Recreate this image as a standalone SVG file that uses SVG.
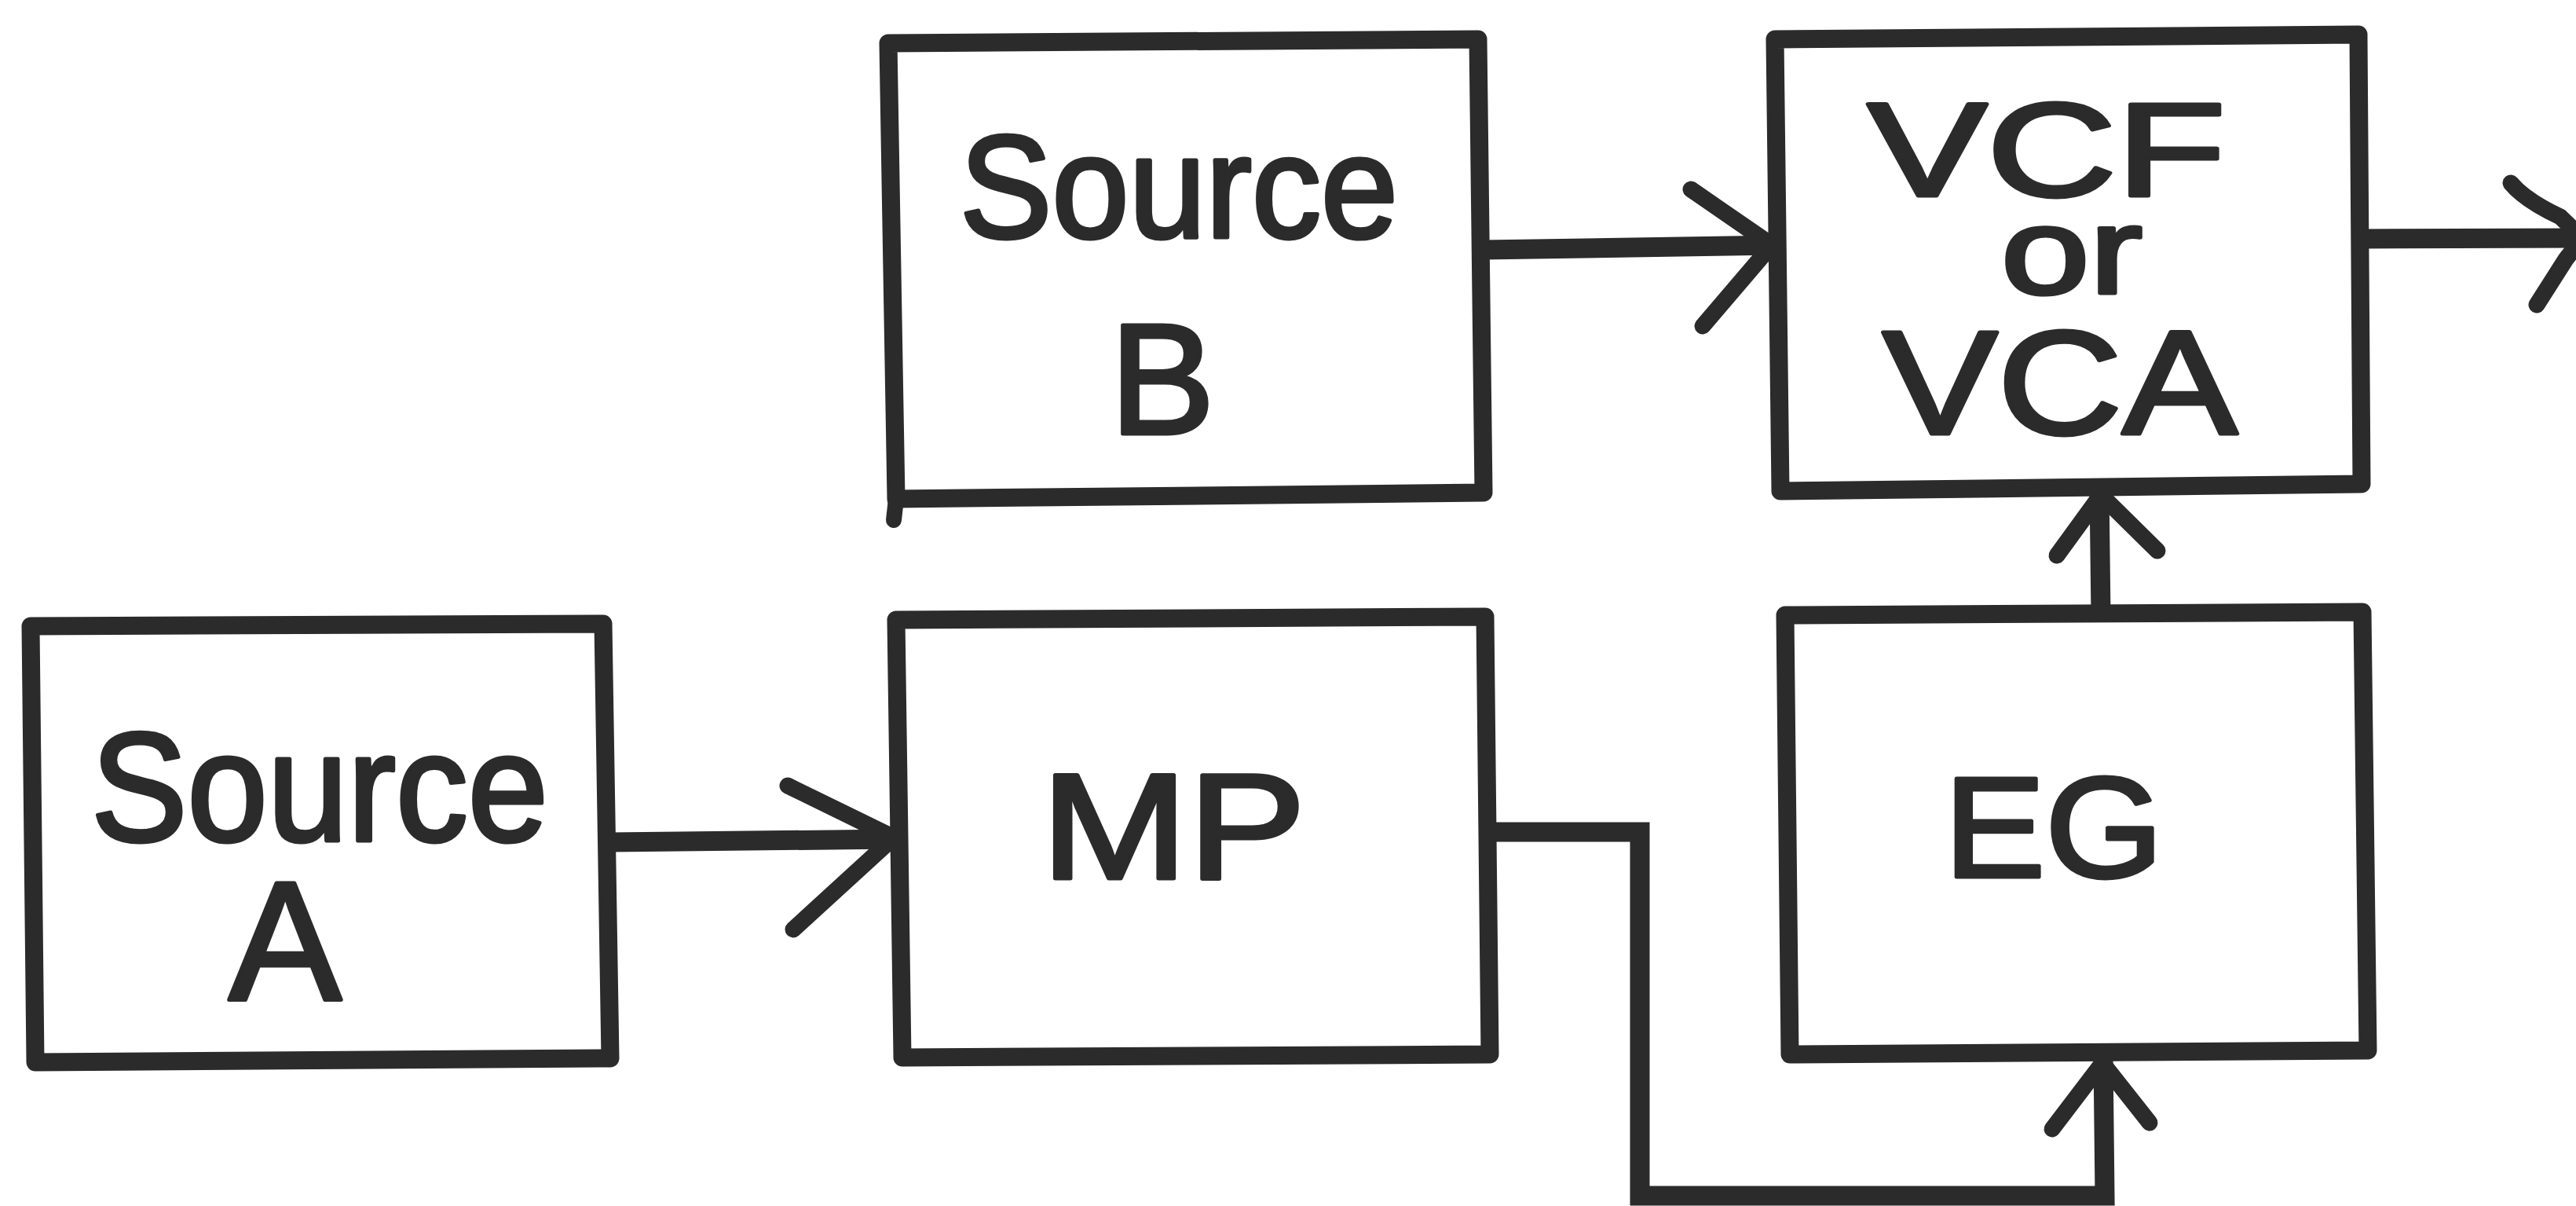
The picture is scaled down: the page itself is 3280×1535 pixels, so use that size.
<svg xmlns="http://www.w3.org/2000/svg" width="3280" height="1535" viewBox="0 0 3280 1535">
  <style>
    .box { fill: #ffffff; stroke: #2b2b2b; stroke-width: 23; stroke-linejoin: round; stroke-linecap: round; }
    .wire { fill: none; stroke: #2b2b2b; stroke-width: 25; stroke-linejoin: miter; stroke-linecap: butt; }
    .head { fill: none; stroke: #2b2b2b; stroke-width: 21; stroke-linejoin: round; stroke-linecap: round; }
    .lbl { font-family: "Liberation Sans", "DejaVu Sans", sans-serif; fill: #2b2b2b; stroke: #2b2b2b; stroke-width: 5; stroke-linejoin: round; text-anchor: middle; }
  </style>
  <rect x="0" y="0" width="3280" height="1535" fill="#ffffff"/>

  <g id="connectors">
    <!-- Source A -> MP -->
    <path class="wire" d="M777,1072 L1142,1068"/>
    <path class="head" d="M1003,1000 L1138,1066 L1010,1183"/>
    <!-- Source B -> VCF/VCA -->
    <path class="wire" d="M1889,318 L2262,312"/>
    <path class="head" d="M2153,241 L2256,312 L2168,415"/>
    <!-- VCF/VCA -> output -->
    <path class="wire" d="M3007,304 L3285,303"/>
    <path class="head" d="M3197,233 Q3215,255 3260,276 L3288,303 L3267,330 L3230,388"/>
    <!-- EG -> VCF/VCA -->
    <path class="wire" d="M2675,783 L2673,622"/>
    <path class="head" d="M2619,707 L2675,630 L2747,701"/>
    <!-- MP -> EG -->
    <path class="wire" d="M1897,1059 L2088,1059 L2088,1522 L2680,1522 L2678,1345"/>
    <path class="head" d="M2613,1437 L2677,1353 L2737,1429"/>
  </g>

  <g id="source-b">
    <path class="box" d="M1131,55 L1882,50 L1889,627 L1141,635 Z"/>
    <path class="wire" style="stroke-width:20;stroke-linecap:round" d="M1141,635 L1138,662"/>
    <text class="lbl" x="1501" y="302" font-size="185" textLength="558" lengthAdjust="spacingAndGlyphs">Source</text>
    <text class="lbl" x="1480" y="552" font-size="200">B</text>
  </g>

  <g id="vcf-vca">
    <path class="box" d="M2260,50 L3003,44 L3007,616 L2267,625 Z"/>
    <text class="lbl" x="2606" y="249" font-size="168" textLength="456" lengthAdjust="spacingAndGlyphs">VCF</text>
    <text class="lbl" x="2638" y="373" font-size="155" textLength="180" lengthAdjust="spacingAndGlyphs">or</text>
    <text class="lbl" x="2623" y="552" font-size="188" textLength="452" lengthAdjust="spacingAndGlyphs">VCA</text>
  </g>

  <g id="source-a">
    <path class="box" d="M39,797 L768,794 L777,1347 L45,1352 Z"/>
    <text class="lbl" x="407" y="1070" font-size="196" textLength="582" lengthAdjust="spacingAndGlyphs">Source</text>
    <text class="lbl" x="363" y="1272" font-size="215">A</text>
  </g>

  <g id="mp">
    <path class="box" d="M1141,789 L1891,785 L1897,1342 L1149,1346 Z"/>
    <text class="lbl" x="1494" y="1118" font-size="192" textLength="337" lengthAdjust="spacingAndGlyphs">MP</text>
  </g>

  <g id="eg">
    <path class="box" d="M2273,783 L3008,779 L3015,1337 L2279,1342 Z"/>
    <text class="lbl" x="2615" y="1116" font-size="182" textLength="279" lengthAdjust="spacingAndGlyphs">EG</text>
  </g>
</svg>
